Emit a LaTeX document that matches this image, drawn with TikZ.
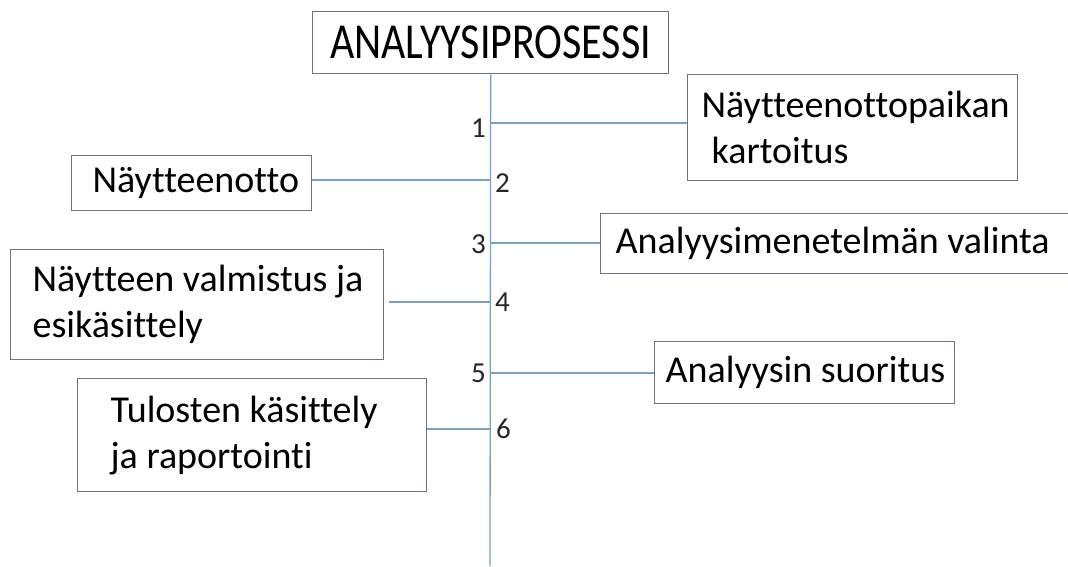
\documentclass[tikz,border=0pt]{standalone}
\usepackage{graphicx}
\usepackage{fontspec}
\setmainfont{Carlito}[Ligatures=NoCommon]
\definecolor{linec}{RGB}{122,162,188}
\definecolor{boxc}{RGB}{105,118,132}
\tikzset{
  box/.style={draw=boxc, line width=1.3pt, inner sep=0pt, align=flush left, anchor=north west,
    font=\fontsize{38}{46}\selectfont, text=black},
  conn/.style={draw=linec, line width=1.3pt},
  num/.style={inner sep=0pt, font=\fontsize{29}{32}\selectfont, text=black!85}
}
\begin{document}
\begin{tikzpicture}[x=1pt,y=-1pt]
\useasboundingbox (0,0) rectangle (1068,566);
\node[box, align=center, text width=356pt, minimum height=62pt, font=\fontsize{42}{48}\selectfont] (title) at (312,11) {\raisebox{-1pt}{\scalebox{1}[1.2]{ANALYYSIPROSESSI}}};
\node[box, text width=330pt, minimum height=106pt] (b1) at (687,74) {\hspace*{14pt}\mbox{Näytteenottopaikan}\\\hspace*{24pt}kartoitus};
\node[box, text width=240pt, minimum height=55pt] (b2) at (71,155) {\hspace*{21pt}\mbox{Näytteenotto}};
\node[box, text width=480pt, minimum height=60pt] (b3) at (600,213) {\hspace*{15pt}\mbox{Analyysimenetelmän valinta}};
\node[box, text width=373pt, minimum height=110pt] (b4) at (10,249) {\hspace*{22pt}\mbox{Näytteen valmistus ja}\\\hspace*{22pt}esikäsittely};
\node[box, text width=300pt, minimum height=62pt] (b5) at (654,341) {\hspace*{11pt}\mbox{Analyysin suoritus}};
\node[box, text width=349pt, minimum height=113pt] (b6) at (77,378) {\hspace*{33pt}\mbox{Tulosten käsittely}\\\hspace*{33pt}\mbox{ja raportointi}};
\coordinate (sb) at (490,566);
\coordinate (s1) at (490,123);
\coordinate (s2) at (490,180);
\coordinate (s3) at (490,243);
\coordinate (s4) at (490,302);
\coordinate (s5) at (490,373);
\coordinate (s6) at (490,429);
\draw[conn] (title.south) -- (sb);
\draw[conn] (s1) -- (s1 -| b1.west);
\draw[conn] (s2) -- (s2 -| b2.east);
\draw[conn] (s3) -- (s3 -| b3.west);
\draw[conn] (s4) -- ([xshift=5pt]s4 -| b4.east);
\draw[conn] (s5) -- (s5 -| b5.west);
\draw[conn] (s6) -- (s6 -| b6.east);
\node[num, anchor=east] (n1) at (486,128) {1};
\node[num, anchor=west] (n2) at (495,183) {2};
\node[num, anchor=east] (n3) at (486,244) {3};
\node[num, anchor=west] (n4) at (495,302) {4};
\node[num, anchor=east] (n5) at (486,373) {5};
\node[num, anchor=west] (n6) at (496,429) {6};
\end{tikzpicture}
\end{document}
